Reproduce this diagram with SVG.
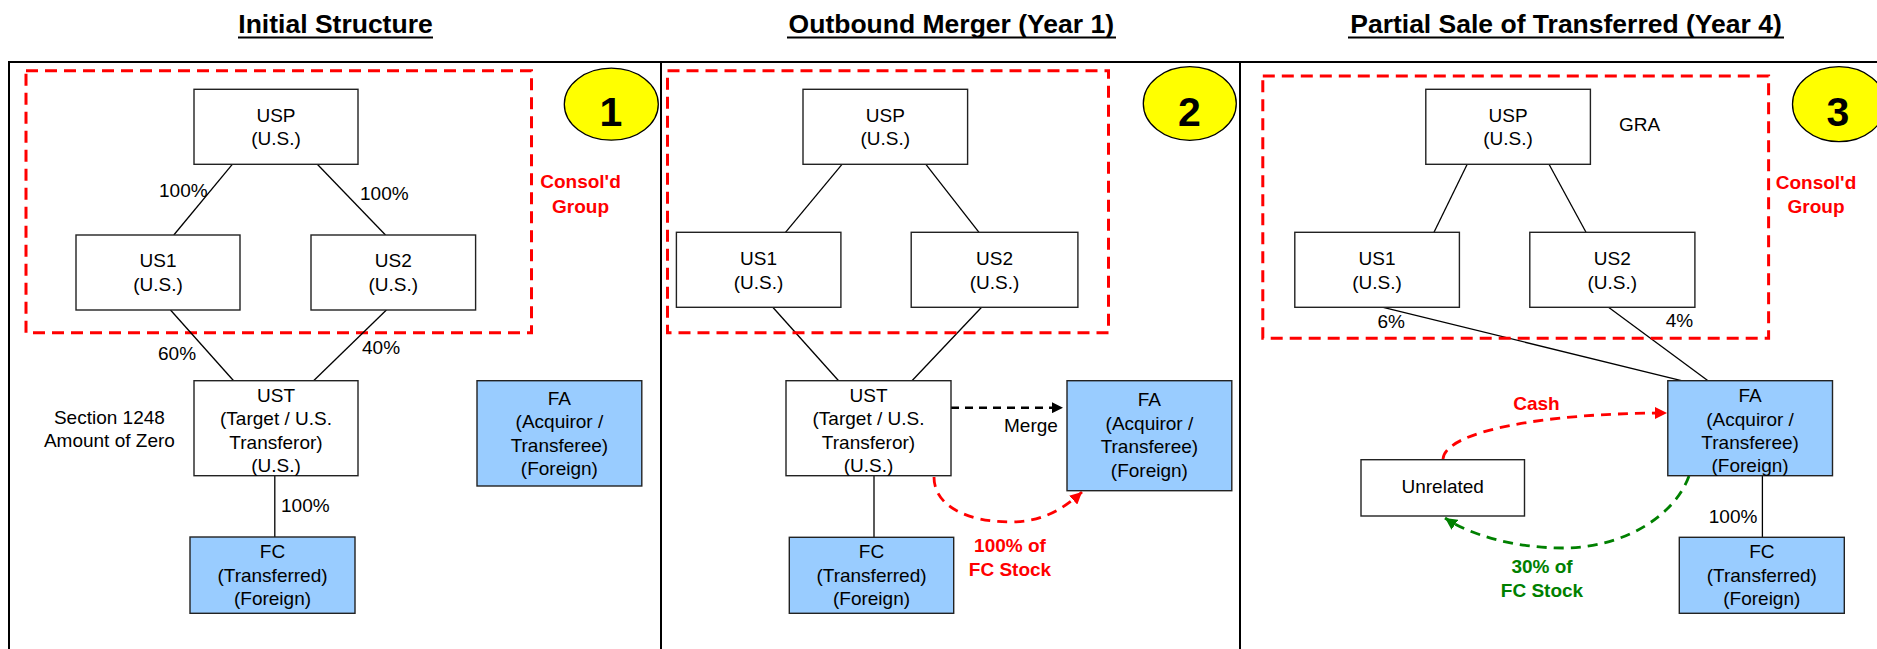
<svg xmlns="http://www.w3.org/2000/svg" width="1877" height="649" viewBox="0 0 1877 649">
<style>
text{font-family:"Liberation Sans",Arial,sans-serif;fill:#000}
.t{font-size:19px}
.title{font-size:26.5px;font-weight:bold}
.num{font-size:41px;font-weight:bold}
.red{fill:#FF0000;font-size:19px;font-weight:bold}
.grn{fill:#008000;font-size:19px;font-weight:bold}
.box{fill:#FFFFFF;stroke:#222;stroke-width:1.4}
.fbox{fill:#99CCFF;stroke:#222;stroke-width:1.4}
.ln{stroke:#000;stroke-width:1.3;fill:none}
.grp{fill:none;stroke:#FF0000;stroke-width:3;stroke-dasharray:12 7}
.frame{fill:none;stroke:#000;stroke-width:2}
.circ{fill:#FFFF00;stroke:#000;stroke-width:1.3}
.ul{stroke:#000;stroke-width:2}
</style>
<defs>
<marker id="ab" viewBox="0 0 10 10" refX="10" refY="5" markerWidth="11" markerHeight="11" markerUnits="userSpaceOnUse" orient="auto"><path d="M0,0 L10,5 L0,10 z" fill="#000"/></marker>
<marker id="ar" viewBox="0 0 10 10" refX="10" refY="5" markerWidth="12" markerHeight="12" markerUnits="userSpaceOnUse" orient="auto"><path d="M0,0 L10,5 L0,10 z" fill="#FF0000"/></marker>
<marker id="ag" viewBox="0 0 10 10" refX="10" refY="5" markerWidth="12" markerHeight="12" markerUnits="userSpaceOnUse" orient="auto"><path d="M0,0 L10,5 L0,10 z" fill="#008000"/></marker>
</defs>

<g id="frame">
<path class="frame" d="M9,649 V62 H1877"/>
<line class="frame" x1="661" y1="62" x2="661" y2="649"/>
<line class="frame" x1="1240" y1="62" x2="1240" y2="649"/>
</g>

<g id="titles">
<text class="title" x="335.5" y="33" text-anchor="middle">Initial Structure</text>
<line class="ul" x1="238" y1="37.5" x2="433" y2="37.5"/>
<text class="title" x="951.3" y="33" text-anchor="middle">Outbound Merger (Year 1)</text>
<line class="ul" x1="787" y1="37.5" x2="1116" y2="37.5"/>
<text class="title" x="1566" y="33" text-anchor="middle">Partial Sale of Transferred (Year 4)</text>
<line class="ul" x1="1348" y1="37.5" x2="1784" y2="37.5"/>
</g>

<!-- Panel 1 -->
<g id="p1-group">
<rect class="grp" x="26" y="70.7" width="505.5" height="262"/>
<text class="red" x="580.5" y="188" text-anchor="middle">Consol'd</text>
<text class="red" x="580.5" y="213.3" text-anchor="middle">Group</text>
</g>
<g id="p1-step">
<ellipse class="circ" cx="611.3" cy="104.2" rx="47" ry="36"/>
<text class="num" x="611" y="126" text-anchor="middle">1</text>
</g>
<g id="connectors">
<!-- panel 1 -->
<line class="ln" x1="232.3" y1="164.3" x2="173.8" y2="235"/>
<line class="ln" x1="317.3" y1="164.3" x2="385.5" y2="235"/>
<line class="ln" x1="170.5" y1="310" x2="233.6" y2="380.7"/>
<line class="ln" x1="386.4" y1="310" x2="313.6" y2="380.7"/>
<line class="ln" x1="274.8" y1="475.7" x2="274.8" y2="537"/>
<!-- panel 2 -->
<line class="ln" x1="842" y1="164.3" x2="785.5" y2="232.3"/>
<line class="ln" x1="925.9" y1="164.3" x2="979" y2="232.3"/>
<line class="ln" x1="772.8" y1="307.3" x2="838.6" y2="380.7"/>
<line class="ln" x1="981.6" y1="307.3" x2="912" y2="380.7"/>
<line class="ln" x1="874" y1="475.7" x2="874" y2="537.3"/>
<path d="M951,407.7 H1063" fill="none" stroke="#000" stroke-width="2.5" stroke-dasharray="8 6" marker-end="url(#ab)"/>
<path d="M934,477 C934,505 965,522 1012,522 C1045,522 1068,505 1082,492" fill="none" stroke="#FF0000" stroke-width="2.8" stroke-dasharray="10 7" marker-end="url(#ar)"/>
<!-- panel 3 -->
<line class="ln" x1="1467.2" y1="164.3" x2="1434" y2="232.3"/>
<line class="ln" x1="1549" y1="164.3" x2="1586" y2="232.3"/>
<line class="ln" x1="1383.2" y1="307.3" x2="1681.4" y2="380.7"/>
<line class="ln" x1="1608.5" y1="307.3" x2="1708" y2="380.7"/>
<line class="ln" x1="1762.4" y1="475.7" x2="1762.4" y2="537.3"/>
<path d="M1443,459 C1445,432 1540,413 1667,413" fill="none" stroke="#FF0000" stroke-width="2.8" stroke-dasharray="10 7" marker-end="url(#ar)"/>
<path d="M1689,476 C1675,515 1625,548 1563,548 C1515,548 1470,535 1445,518" fill="none" stroke="#008000" stroke-width="2.8" stroke-dasharray="10 7" marker-end="url(#ag)"/>
</g>
<g id="p1-labels">
<text class="t" x="159" y="197">100%</text>
<text class="t" x="360" y="200">100%</text>
<text class="t" x="158" y="360">60%</text>
<text class="t" x="362" y="354">40%</text>
<text class="t" x="281" y="511.7">100%</text>
<text class="t" x="109.4" y="424" text-anchor="middle">Section 1248</text>
<text class="t" x="109.4" y="446.7" text-anchor="middle">Amount of Zero</text>
</g>
<g id="p1-usp">
<rect class="box" x="194" y="89.3" width="164" height="75"/>
<text class="t" x="276" y="121.7" text-anchor="middle">USP</text>
<text class="t" x="276" y="145" text-anchor="middle">(U.S.)</text>
</g>
<g id="p1-us1">
<rect class="box" x="76" y="235" width="164" height="75"/>
<text class="t" x="158" y="267" text-anchor="middle">US1</text>
<text class="t" x="158" y="291" text-anchor="middle">(U.S.)</text>
</g>
<g id="p1-us2">
<rect class="box" x="311" y="235" width="164.6" height="75"/>
<text class="t" x="393.3" y="267" text-anchor="middle">US2</text>
<text class="t" x="393.3" y="291" text-anchor="middle">(U.S.)</text>
</g>
<g id="p1-ust">
<rect class="box" x="194" y="380.7" width="164" height="95"/>
<text class="t" x="276" y="401.7" text-anchor="middle">UST</text>
<text class="t" x="276" y="425" text-anchor="middle">(Target / U.S.</text>
<text class="t" x="276" y="448.7" text-anchor="middle">Transferor)</text>
<text class="t" x="276" y="471.7" text-anchor="middle">(U.S.)</text>
</g>
<g id="p1-fc">
<rect class="fbox" x="190" y="537" width="165" height="76.3"/>
<text class="t" x="272.5" y="557.7" text-anchor="middle">FC</text>
<text class="t" x="272.5" y="582.3" text-anchor="middle">(Transferred)</text>
<text class="t" x="272.5" y="605" text-anchor="middle">(Foreign)</text>
</g>
<g id="p1-fa">
<rect class="fbox" x="477" y="380.7" width="164.8" height="105.3"/>
<text class="t" x="559.4" y="405" text-anchor="middle">FA</text>
<text class="t" x="559.4" y="428.3" text-anchor="middle">(Acquiror /</text>
<text class="t" x="559.4" y="451.7" text-anchor="middle">Transferee)</text>
<text class="t" x="559.4" y="475" text-anchor="middle">(Foreign)</text>
</g>

<!-- Panel 2 -->
<g id="p2-group">
<rect class="grp" x="667.5" y="70.7" width="441" height="262"/>
</g>
<g id="p2-step">
<ellipse class="circ" cx="1189.8" cy="103.5" rx="46.5" ry="36.8"/>
<text class="num" x="1189.5" y="125.5" text-anchor="middle">2</text>
</g>
<g id="p2-usp">
<rect class="box" x="803" y="89.3" width="164.6" height="75"/>
<text class="t" x="885.3" y="121.7" text-anchor="middle">USP</text>
<text class="t" x="885.3" y="145" text-anchor="middle">(U.S.)</text>
</g>
<g id="p2-us1">
<rect class="box" x="676.4" y="232.3" width="164.5" height="75"/>
<text class="t" x="758.6" y="264.5" text-anchor="middle">US1</text>
<text class="t" x="758.6" y="288.5" text-anchor="middle">(U.S.)</text>
</g>
<g id="p2-us2">
<rect class="box" x="911.2" y="232.3" width="166.7" height="75"/>
<text class="t" x="994.5" y="264.5" text-anchor="middle">US2</text>
<text class="t" x="994.5" y="288.5" text-anchor="middle">(U.S.)</text>
</g>
<g id="p2-ust">
<rect class="box" x="786" y="380.7" width="165" height="95"/>
<text class="t" x="868.5" y="401.7" text-anchor="middle">UST</text>
<text class="t" x="868.5" y="425" text-anchor="middle">(Target / U.S.</text>
<text class="t" x="868.5" y="448.7" text-anchor="middle">Transferor)</text>
<text class="t" x="868.5" y="471.7" text-anchor="middle">(U.S.)</text>
</g>
<g id="p2-fc">
<rect class="fbox" x="789.3" y="537.3" width="164.4" height="76"/>
<text class="t" x="871.5" y="557.7" text-anchor="middle">FC</text>
<text class="t" x="871.5" y="582.3" text-anchor="middle">(Transferred)</text>
<text class="t" x="871.5" y="605" text-anchor="middle">(Foreign)</text>
</g>
<g id="p2-fa">
<rect class="fbox" x="1067" y="380.7" width="164.8" height="110"/>
<text class="t" x="1149.4" y="406" text-anchor="middle">FA</text>
<text class="t" x="1149.4" y="430" text-anchor="middle">(Acquiror /</text>
<text class="t" x="1149.4" y="453.3" text-anchor="middle">Transferee)</text>
<text class="t" x="1149.4" y="476.7" text-anchor="middle">(Foreign)</text>
</g>
<g id="p2-labels">
<text class="t" x="1004" y="431.7">Merge</text>
<text class="red" x="1010" y="551.7" text-anchor="middle">100% of</text>
<text class="red" x="1010" y="576" text-anchor="middle">FC Stock</text>
</g>

<!-- Panel 3 -->
<g id="p3-group">
<rect class="grp" x="1262.8" y="76" width="505.8" height="262.3"/>
<text class="red" x="1816" y="189" text-anchor="middle">Consol'd</text>
<text class="red" x="1816" y="213.3" text-anchor="middle">Group</text>
</g>
<g id="p3-step">
<ellipse class="circ" cx="1839" cy="104.2" rx="46.5" ry="37.5"/>
<text class="num" x="1838" y="126" text-anchor="middle">3</text>
</g>
<g id="p3-usp">
<rect class="box" x="1425.8" y="89.3" width="164.6" height="75"/>
<text class="t" x="1508.1" y="121.7" text-anchor="middle">USP</text>
<text class="t" x="1508.1" y="145" text-anchor="middle">(U.S.)</text>
<text class="t" x="1619" y="131">GRA</text>
</g>
<g id="p3-us1">
<rect class="box" x="1294.8" y="232.3" width="164.6" height="75"/>
<text class="t" x="1377.1" y="264.5" text-anchor="middle">US1</text>
<text class="t" x="1377.1" y="288.5" text-anchor="middle">(U.S.)</text>
</g>
<g id="p3-us2">
<rect class="box" x="1529.8" y="232.3" width="165.1" height="75"/>
<text class="t" x="1612.3" y="264.5" text-anchor="middle">US2</text>
<text class="t" x="1612.3" y="288.5" text-anchor="middle">(U.S.)</text>
</g>
<g id="p3-fa">
<rect class="fbox" x="1667.8" y="380.7" width="164.7" height="95"/>
<text class="t" x="1750.1" y="401.7" text-anchor="middle">FA</text>
<text class="t" x="1750.1" y="425.5" text-anchor="middle">(Acquiror /</text>
<text class="t" x="1750.1" y="449" text-anchor="middle">Transferee)</text>
<text class="t" x="1750.1" y="471.7" text-anchor="middle">(Foreign)</text>
</g>
<g id="p3-fc">
<rect class="fbox" x="1679.3" y="537.3" width="165" height="76"/>
<text class="t" x="1761.8" y="557.7" text-anchor="middle">FC</text>
<text class="t" x="1761.8" y="582.3" text-anchor="middle">(Transferred)</text>
<text class="t" x="1761.8" y="605" text-anchor="middle">(Foreign)</text>
</g>
<g id="p3-unrelated">
<rect class="box" x="1361" y="459.7" width="163.5" height="56.3"/>
<text class="t" x="1442.7" y="493.3" text-anchor="middle">Unrelated</text>
</g>
<g id="p3-labels">
<text class="t" x="1377.5" y="328">6%</text>
<text class="t" x="1665.8" y="327">4%</text>
<text class="t" x="1708.8" y="522.7">100%</text>
<text class="red" x="1536.4" y="410" text-anchor="middle">Cash</text>
<text class="grn" x="1542" y="573.3" text-anchor="middle">30% of</text>
<text class="grn" x="1542" y="596.7" text-anchor="middle">FC Stock</text>
</g>
</svg>
